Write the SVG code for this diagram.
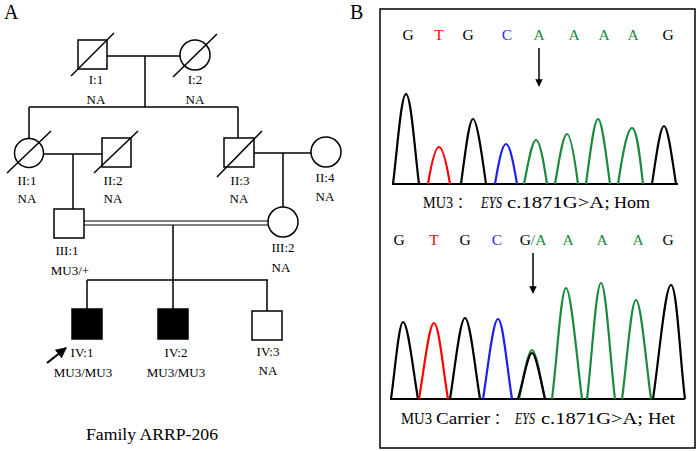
<svg xmlns="http://www.w3.org/2000/svg" width="697" height="451" viewBox="0 0 697 451">
<defs>
<style>
text{font-family:"Liberation Serif","Times New Roman",serif;fill:#000}
.lb{font-size:13px;text-anchor:middle}
.sq{fill:#fff;stroke:#000;stroke-width:1.5}
.af{fill:#000;stroke:#000;stroke-width:1.5}
.ln{fill:none;stroke:#000;stroke-width:1.5}
.pk{fill:none;stroke-width:2.2;stroke-linejoin:round}
.k{stroke:#000}.r{stroke:#f00}.b{stroke:#1f1fe8}.g{stroke:#1b8a3c}
.sl{font-size:15.5px;text-anchor:middle}
.cap{font-size:16px}
.cj{font-family:"Noto Sans CJK SC",sans-serif;font-size:14px}
</style>
<marker id="ah" viewBox="0 0 10 10" refX="9" refY="5" markerWidth="5" markerHeight="5" orient="auto"><path d="M0,0 L10,5 L0,10 z" fill="#000"/></marker>
</defs>
<text x="4" y="19" font-size="20">A</text>
<text x="350" y="19" font-size="20">B</text>

<g id="connectors" class="ln">
<line x1="107" y1="56" x2="180" y2="56"/>
<line x1="145" y1="56" x2="145" y2="107"/>
<line x1="29" y1="107" x2="238" y2="107"/>
<line x1="29" y1="107" x2="29" y2="138"/>
<line x1="238" y1="107" x2="238" y2="138"/>
<line x1="43" y1="154" x2="102" y2="154"/>
<line x1="73" y1="154" x2="73" y2="209"/>
<line x1="254" y1="153" x2="311" y2="153"/>
<line x1="283" y1="153" x2="283" y2="207"/>
<line x1="84" y1="221" x2="268" y2="221" stroke-width="1.2"/>
<line x1="84" y1="225" x2="268" y2="225" stroke-width="1.2"/>
<line x1="173" y1="225" x2="173" y2="280"/>
<line x1="87" y1="280" x2="268" y2="280"/>
<line x1="87" y1="280" x2="87" y2="309"/>
<line x1="173" y1="280" x2="173" y2="309"/>
<line x1="267" y1="280" x2="267" y2="311"/>
<line x1="47" y1="363" x2="66" y2="348" stroke-width="2.2" marker-end="url(#ah)"/>
</g>

<g id="I1"><rect class="sq" x="78" y="40" width="29" height="29"/><line class="ln" x1="71" y1="76" x2="114" y2="33"/><text class="lb" x="96" y="84">I:1</text><text class="lb" x="96" y="104">NA</text></g>
<g id="I2"><circle class="sq" cx="195" cy="55" r="15"/><line class="ln" x1="173" y1="77" x2="217" y2="34"/><text class="lb" x="195" y="84">I:2</text><text class="lb" x="195" y="104">NA</text></g>
<g id="II1"><circle class="sq" cx="29" cy="153" r="14.5"/><line class="ln" x1="7" y1="173" x2="51" y2="131"/><text class="lb" x="27" y="185">II:1</text><text class="lb" x="27" y="203">NA</text></g>
<g id="II2"><rect class="sq" x="102" y="138" width="29" height="29"/><line class="ln" x1="94" y1="173" x2="138" y2="131"/><text class="lb" x="113" y="185">II:2</text><text class="lb" x="113" y="203">NA</text></g>
<g id="II3"><rect class="sq" x="224" y="138" width="30" height="29"/><line class="ln" x1="217" y1="177" x2="262" y2="131"/><text class="lb" x="240" y="185">II:3</text><text class="lb" x="239" y="203">NA</text></g>
<g id="II4"><circle class="sq" cx="326" cy="152" r="15"/><text class="lb" x="325" y="182">II:4</text><text class="lb" x="325" y="201">NA</text></g>
<g id="III1"><rect class="sq" x="54" y="209" width="30" height="29"/><text class="lb" x="67" y="255">III:1</text><text class="lb" x="70" y="275">MU3/+</text></g>
<g id="III2"><circle class="sq" cx="283" cy="222" r="15"/><text class="lb" x="283" y="252">III:2</text><text class="lb" x="281" y="272">NA</text></g>
<g id="IV1"><rect class="af" x="72" y="309" width="30" height="30"/><text class="lb" x="82" y="357">IV:1</text><text class="lb" x="83" y="377">MU3/MU3</text></g>
<g id="IV2"><rect class="af" x="158" y="309" width="30" height="30"/><text class="lb" x="176" y="357">IV:2</text><text class="lb" x="176" y="377">MU3/MU3</text></g>
<g id="IV3"><rect class="sq" x="252" y="311" width="30" height="29"/><text class="lb" x="268" y="356">IV:3</text><text class="lb" x="268" y="375">NA</text></g>
<text x="86" y="440" font-size="17.5" textLength="132" lengthAdjust="spacingAndGlyphs">Family ARRP-206</text>

<g id="panelB">
<rect x="380" y="9" width="315" height="439" fill="none" stroke="#000" stroke-width="1.5"/>
<g class="sl">
<text x="408" y="40">G</text><text x="439" y="40" style="fill:#f00">T</text><text x="468" y="40">G</text><text x="507" y="40" style="fill:#2a2af0">C</text><text x="539" y="40" style="fill:#1b8a3c">A</text><text x="574" y="40" style="fill:#1b8a3c">A</text><text x="604" y="40" style="fill:#1b8a3c">A</text><text x="633" y="40" style="fill:#1b8a3c">A</text><text x="668" y="40">G</text>
</g>
<line class="ln" x1="539" y1="48" x2="539" y2="86" marker-end="url(#ah)"/>
<line x1="392" y1="184" x2="678" y2="184" stroke="#000" stroke-width="2"/>
<path class="pk k" d="M393,184 C397,153 401,94 406,94 C411,94 415,153 419,184"/>
<path class="pk r" d="M428,184 C431,166 435,147 439,147 C443,147 447,166 450,184"/>
<path class="pk k" d="M461,184 C465,155 469,119 473,119 C477,119 482,155 486,184"/>
<path class="pk b" d="M495,184 C498,166 502,144 506,144 C510,144 514,166 517,184"/>
<path class="pk g" d="M524,184 C528,164 532,140 536,140 C540,140 544,164 547,184"/>
<path class="pk g" d="M555,184 C559,161 563,134 567,134 C571,134 575,161 578,184"/>
<path class="pk g" d="M586,184 C590,155 594,119 598,119 C602,119 606,155 610,184"/>
<path class="pk g" d="M618,184 C622,158 627,128 632,128 C637,128 640,158 643,184"/>
<path class="pk k" d="M652,184 C656,158 660,126 664,126 C668,126 672,158 676,184"/>
<text class="cap" x="423" y="208" textLength="30" lengthAdjust="spacingAndGlyphs">MU3</text>
<text class="cj" x="457" y="207">：</text>
<text class="cap" x="481" y="208" font-style="italic" textLength="21" lengthAdjust="spacingAndGlyphs">EYS</text>
<text class="cap" x="507" y="208" textLength="103" lengthAdjust="spacingAndGlyphs">c.1871G&gt;A;</text>
<text class="cap" x="614" y="208" textLength="36" lengthAdjust="spacingAndGlyphs">Hom</text>

<g class="sl">
<text x="399" y="245">G</text><text x="434" y="245" style="fill:#f00">T</text><text x="465" y="245">G</text><text x="497" y="245" style="fill:#2a2af0">C</text><text x="533" y="245">G<tspan style="fill:#1b8a3c">/A</tspan></text><text x="568" y="245" style="fill:#1b8a3c">A</text><text x="602" y="245" style="fill:#1b8a3c">A</text><text x="638" y="245" style="fill:#1b8a3c">A</text><text x="668" y="245">G</text>
</g>
<line class="ln" x1="533" y1="253" x2="533" y2="293" marker-end="url(#ah)"/>
<line x1="390" y1="399" x2="685" y2="399" stroke="#000" stroke-width="2"/>
<path class="pk k" d="M391,399 C395,370 399,322 403,322 C408,322 413,370 418,399"/>
<path class="pk r" d="M419,399 C424,370 429,323 434,323 C439,323 443,370 448,399"/>
<path class="pk k" d="M450,399 C455,368 460,318 465,318 C470,318 475,368 480,399"/>
<path class="pk b" d="M483,399 C488,368 493,319 498,319 C503,319 507,368 512,399"/>
<path class="pk g" d="M519,399 C523,381 528,350 532,350 C536,350 541,381 545,399"/>
<path class="pk k" d="M518,399 C523,382 528,353 532,353 C536,353 541,382 545,399"/>
<path class="pk g" d="M552,399 C557,360 561,288 566,288 C571,288 577,360 582,399"/>
<path class="pk g" d="M587,399 C592,358 596,283 601,283 C606,283 610,358 615,399"/>
<path class="pk g" d="M622,399 C627,363 631,300 636,300 C641,300 646,363 651,399"/>
<path class="pk k" d="M653,399 C659,360 665,285 671,285 C677,285 680,360 685,399"/>
<text class="cap" x="401" y="424" textLength="31" lengthAdjust="spacingAndGlyphs">MU3</text>
<text class="cap" x="436" y="424" textLength="54" lengthAdjust="spacingAndGlyphs">Carrier</text>
<text class="cj" x="494" y="423">：</text>
<text class="cap" x="515" y="424" font-style="italic" textLength="20" lengthAdjust="spacingAndGlyphs">EYS</text>
<text class="cap" x="541" y="424" textLength="102" lengthAdjust="spacingAndGlyphs">c.1871G&gt;A;</text>
<text class="cap" x="648" y="424" textLength="27" lengthAdjust="spacingAndGlyphs">Het</text>
</g>
</svg>
